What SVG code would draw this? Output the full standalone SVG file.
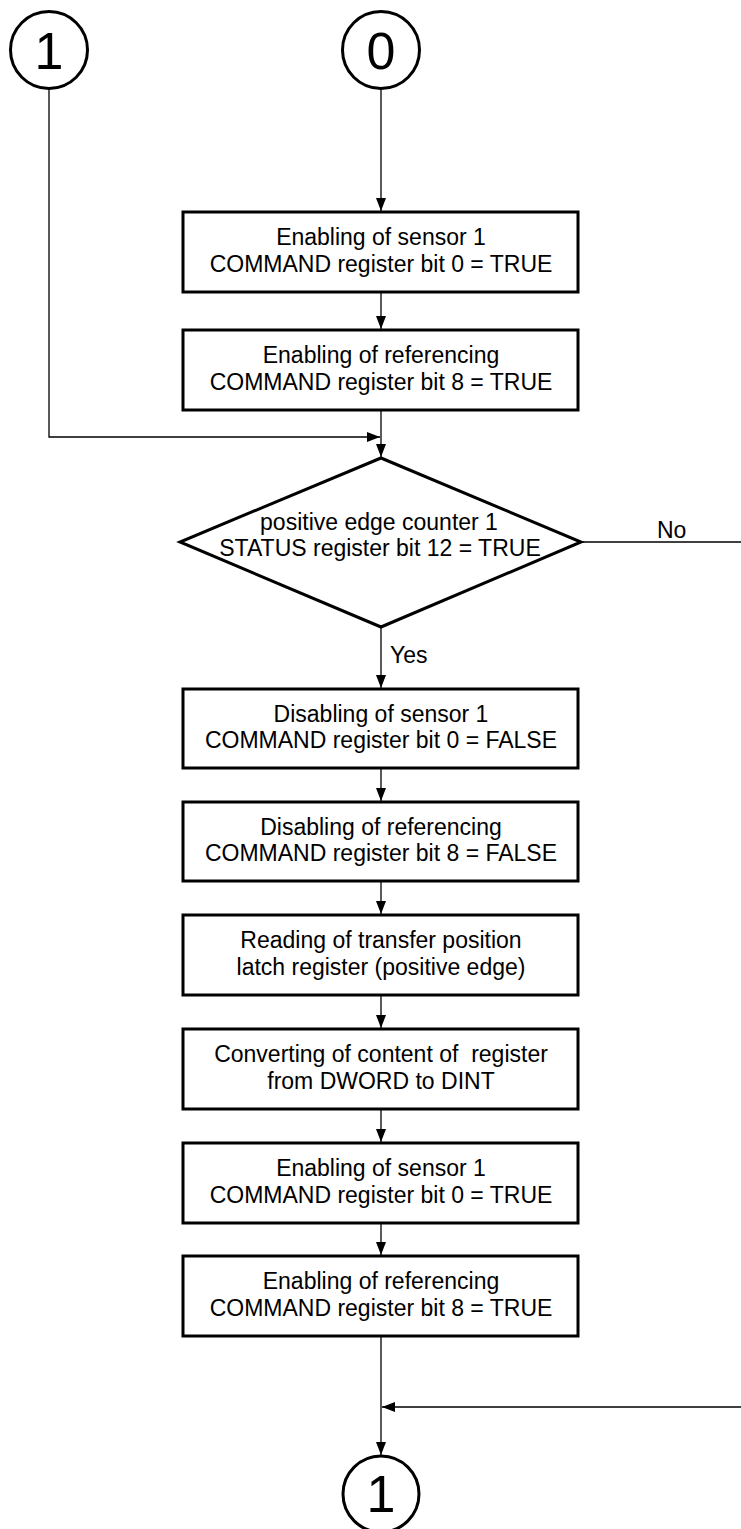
<svg xmlns="http://www.w3.org/2000/svg" width="741" height="1529" viewBox="0 0 741 1529">
<style>
.box{fill:#fff;stroke:#000;stroke-width:3}
.term{fill:#fff;stroke:#000;stroke-width:3}
.ln{fill:none;stroke:#000;stroke-width:1.3}
.t{font-family:"Liberation Sans",Arial,sans-serif;font-size:23px;fill:#000;text-anchor:middle}
.tl{font-family:"Liberation Sans",Arial,sans-serif;font-size:23px;fill:#000}
.big{font-family:"Liberation Sans",Arial,sans-serif;font-size:52px;fill:#000;text-anchor:middle}
</style>
<defs>
<marker id="arr" viewBox="0 0 13 10" refX="13" refY="5" markerWidth="13" markerHeight="10" markerUnits="userSpaceOnUse" orient="auto">
<path d="M0,0 L13,5 L0,10 Z" fill="#000"/>
</marker>
</defs>
<rect width="741" height="1529" fill="#fff"/>
<g id="connectors">
<path class="ln" d="M49,89 V437 H380" marker-end="url(#arr)"/>
<path class="ln" d="M381,89 V211" marker-end="url(#arr)"/>
<path class="ln" d="M381,293 V329" marker-end="url(#arr)"/>
<path class="ln" d="M381,411 V457" marker-end="url(#arr)"/>
<path class="ln" d="M581,542 H741"/>
<path class="ln" d="M381,627 V688" marker-end="url(#arr)"/>
<path class="ln" d="M381,768 V801" marker-end="url(#arr)"/>
<path class="ln" d="M381,881 V914" marker-end="url(#arr)"/>
<path class="ln" d="M381,995 V1028" marker-end="url(#arr)"/>
<path class="ln" d="M381,1109 V1142" marker-end="url(#arr)"/>
<path class="ln" d="M381,1223 V1255" marker-end="url(#arr)"/>
<path class="ln" d="M381,1336 V1455" marker-end="url(#arr)"/>
<path class="ln" d="M741,1407 H382" marker-end="url(#arr)"/>
<text class="tl" x="657" y="538">No</text>
<text class="tl" x="390" y="663">Yes</text>
</g>
<g id="conn1top">
<circle class="term" cx="49" cy="50" r="38.5"/>
<text class="big" x="49" y="69">1</text>
</g>
<g id="conn0top">
<circle class="term" cx="381" cy="50" r="38.5"/>
<text class="big" x="381" y="69">0</text>
</g>
<g id="box1">
<rect class="box" x="183" y="212" width="395" height="80"/>
<text class="t" x="381" y="245">Enabling of sensor 1</text>
<text class="t" x="381" y="272">COMMAND register bit 0 = TRUE</text>
</g>
<g id="box2">
<rect class="box" x="183" y="330" width="395" height="80"/>
<text class="t" x="381" y="363">Enabling of referencing</text>
<text class="t" x="381" y="390">COMMAND register bit 8 = TRUE</text>
</g>
<g id="decision">
<polygon class="box" points="381,458 581,542 381,627 180,542"/>
<text class="t" x="379" y="530">positive edge counter 1</text>
<text class="t" x="380" y="556">STATUS register bit 12 = TRUE</text>
</g>
<g id="box3">
<rect class="box" x="183" y="689" width="395" height="79"/>
<text class="t" x="381" y="722">Disabling of sensor 1</text>
<text class="t" x="381" y="748">COMMAND register bit 0 = FALSE</text>
</g>
<g id="box4">
<rect class="box" x="183" y="802" width="395" height="79"/>
<text class="t" x="381" y="835">Disabling of referencing</text>
<text class="t" x="381" y="861">COMMAND register bit 8 = FALSE</text>
</g>
<g id="box5">
<rect class="box" x="183" y="915" width="395" height="80"/>
<text class="t" x="381" y="948">Reading of transfer position</text>
<text class="t" x="381" y="975">latch register (positive edge)</text>
</g>
<g id="box6">
<rect class="box" x="183" y="1029" width="395" height="80"/>
<text class="t" x="381" y="1062" xml:space="preserve">Converting of content of  register</text>
<text class="t" x="381" y="1089">from DWORD to DINT</text>
</g>
<g id="box7">
<rect class="box" x="183" y="1143" width="395" height="80"/>
<text class="t" x="381" y="1176">Enabling of sensor 1</text>
<text class="t" x="381" y="1203">COMMAND register bit 0 = TRUE</text>
</g>
<g id="box8">
<rect class="box" x="183" y="1256" width="395" height="80"/>
<text class="t" x="381" y="1289">Enabling of referencing</text>
<text class="t" x="381" y="1316">COMMAND register bit 8 = TRUE</text>
</g>
<g id="conn1bottom">
<circle class="term" cx="381" cy="1494" r="38"/>
<text class="big" x="381" y="1512">1</text>
</g>
</svg>
